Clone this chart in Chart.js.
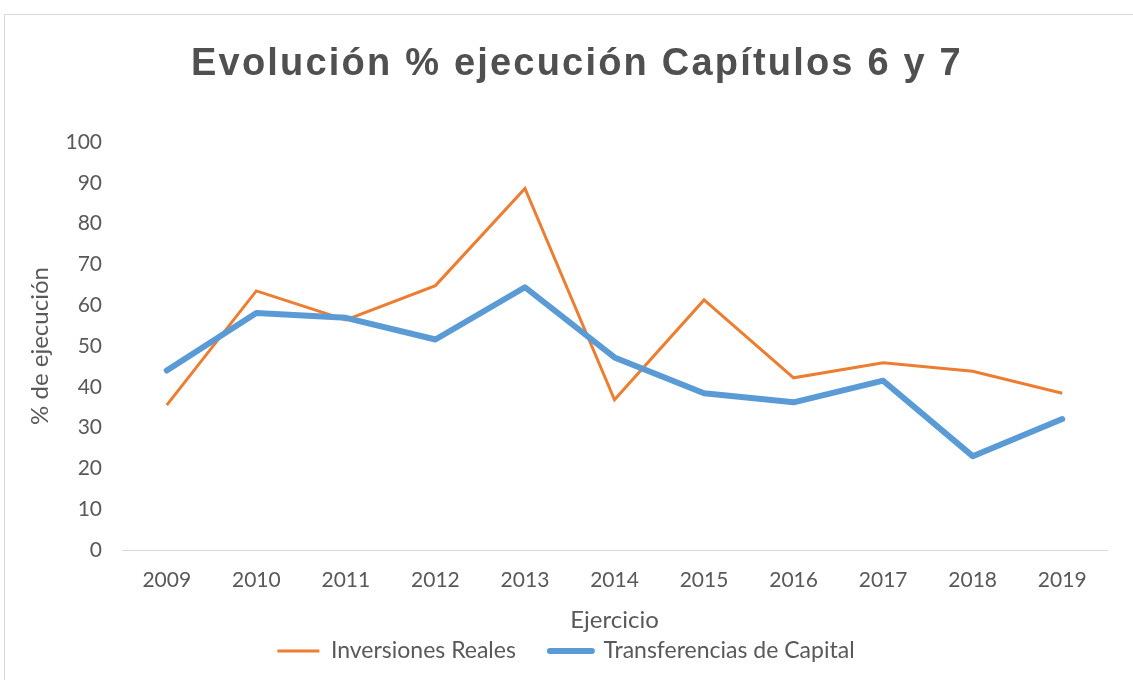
<!DOCTYPE html>
<html>
<head>
<meta charset="utf-8">
<script src="https://cdn.jsdelivr.net/npm/chart.js@4"></script>
<style>
  body { margin: 0; background: #fff; }
  .wrap { position: relative; width: 1133px; height: 680px; }
  .frame { position: absolute; left: 4px; top: 14px; right: 0; bottom: 0;
           border-left: 1px solid #d9d9d9; border-top: 1px solid #d9d9d9; pointer-events: none; }
</style>
</head>
<body>
<div class="wrap">
  <canvas id="grafico" width="1133" height="680"></canvas>
  <div class="frame"></div>
</div>
<script>
const ejercicios = ["2009", "2010", "2011", "2012", "2013", "2014", "2015", "2016", "2017", "2018", "2019"];
const inversionesReales = [35.5, 63.5, 56.4, 64.8, 88.6, 36.8, 61.3, 42.2, 45.9, 43.8, 38.4];
const transferenciasCapital = [44.0, 58.1, 56.9, 51.6, 64.4, 47.2, 38.4, 36.2, 41.5, 23.0, 32.1];
const ticksY = [0, 10, 20, 30, 40, 50, 60, 70, 80, 90, 100];
const titulo = "Evolución % ejecución Capítulos 6 y 7";

const gris = "#595959";
const ctx = document.getElementById("grafico").getContext("2d");

// titulo con espaciado entre letras (el plugin de Chart.js no lo admite)
const tituloEspaciado = {
  id: "tituloEspaciado",
  afterDraw(chart) {
    const c = chart.ctx;
    c.save();
    c.font = "bold 38px 'Liberation Sans'";
    c.fillStyle = "#505050";
    c.textAlign = "center";
    c.textBaseline = "alphabetic";
    c.letterSpacing = "2.2px";
    c.fillText(titulo, 577, 75);
    c.restore();
  },
};

new Chart(ctx, {
  type: "line",
  data: {
    labels: ejercicios,
    datasets: [
      {
        label: "Inversiones Reales",
        data: inversionesReales,
        borderColor: "#ED7D31",
        backgroundColor: "#ED7D31",
        borderWidth: 3,
        pointRadius: 0,
        tension: 0,
        order: 1,
      },
      {
        label: "Transferencias de Capital",
        data: transferenciasCapital,
        borderColor: "#5B9BD5",
        backgroundColor: "#5B9BD5",
        borderWidth: 6,
        borderCapStyle: "round",
        borderJoinStyle: "round",
        pointRadius: 0,
        tension: 0,
        order: 0,
      },
    ],
  },
  options: {
    responsive: false,
    animation: false,
    layout: { padding: { left: 25, right: 26, top: 142, bottom: 7.5 } },
    scales: {
      x: {
        offset: true,
        grid: { display: false, drawTicks: false },
        border: { display: true, color: "#d9d9d9", width: 1 },
        ticks: { color: gris, font: { family: "Lato", size: 21 }, padding: 18 },
        title: {
          display: true,
          text: "Ejercicio",
          color: gris,
          font: { family: "Lato", size: 24, lineHeight: 0.85 },
          padding: { top: 0, bottom: -24.7 },
        },
        afterFit: (s) => { s.height = 55.5; },
      },
      y: {
        min: 0,
        max: 100,
        afterBuildTicks: (s) => { s.ticks = ticksY.map((v) => ({ value: v })); },
        grid: { display: false, drawTicks: false },
        border: { display: false },
        ticks: { color: gris, font: { family: "Lato", size: 21 }, padding: 20 },
        title: {
          display: true,
          text: "% de ejecución",
          color: gris,
          font: { family: "Lato", size: 24 },
          padding: { top: 1, bottom: 4 },
        },
        afterFit: (s) => { s.width = 97; },
      },
    },
    plugins: {
      title: { display: false },
      legend: {
        position: "bottom",
        labels: {
          color: gris,
          font: { family: "Lato", size: 23 },
          boxWidth: 42,
          boxHeight: 0,
          padding: 34,
          sort: (a, b) => a.datasetIndex - b.datasetIndex,
        },
      },
      tooltip: { enabled: false },
    },
  },
  plugins: [tituloEspaciado],
});
</script>
</body>
</html>
